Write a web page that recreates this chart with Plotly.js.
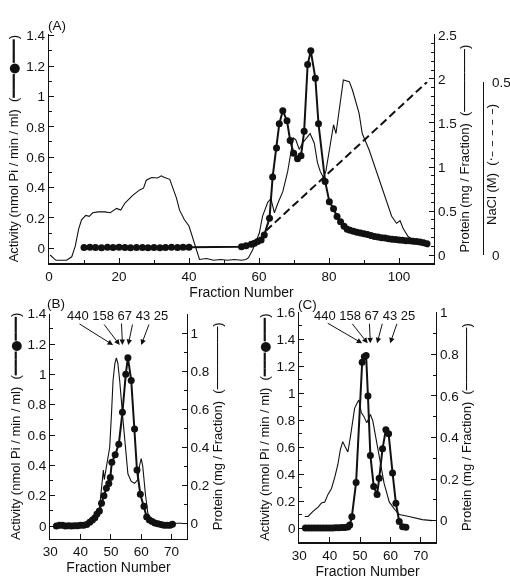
<!DOCTYPE html>
<html>
<head>
<meta charset="utf-8">
<script src="https://cdn.plot.ly/plotly-3.0.1.min.js"></script>
<style>
html,body{margin:0;padding:0;background:#fff;}
#chart{width:510px;height:580px;}
#chart .main-svg{will-change:transform;}
#chart svg text{-webkit-font-smoothing:antialiased;}
</style>
</head>
<body>
<div id="chart"></div>
<script>
// ---------- Panel A ----------
const aActX = [10,11.7,13.3,15,16.7,18.3,20,21.7,23.3,25,26.7,28.3,30,31.7,33.3,35,36.7,38.3,40,
  55,56.3,57.8,58.7,59.6,60.6,61.5,63,63.9,65,65.8,66.8,68,68.9,69.9,71,72,72.9,73.9,74.8,76.1,77,78.9,
  80.1,81.3,82.3,83.3,84.3,85.2,86,87,88,89,90,91,92,93,94,95,96,97,98,99,100,101,102,103,104,105,106,107,108];
const aActY = [0.005,0.006,0.005,0.004,0.006,0.005,0.006,0.005,0.004,0.005,0.005,0.004,0.005,0.004,0.005,0.006,0.005,0.006,0.007,
  0.01,0.017,0.026,0.033,0.044,0.055,0.088,0.197,0.47,0.66,0.82,0.905,0.84,0.71,0.625,0.59,0.61,0.77,1.21,1.30,1.12,0.82,0.44,
  0.307,0.26,0.21,0.175,0.145,0.125,0.118,0.112,0.106,0.1,0.095,0.09,0.084,0.078,0.074,0.07,0.067,0.063,0.06,0.057,0.055,0.052,0.05,0.049,0.047,0.045,0.042,0.036,0.03];
const aProtX = [0.3,2,5,6.5,7.5,8.5,9.3,10.5,11.5,12.5,14,16,17.5,19.3,20.5,21.7,24,25.9,27,27.8,29.3,31,32.1,33,34.5,35.5,36.4,37.3,38.7,40,
  41,42,43,45,47,49,51,53,55,56.3,57,58.2,60.1,61,62.5,63.4,64.4,65.5,66.8,68.2,69.1,69.8,70.5,71.5,72.4,73.4,74.6,75.8,76.7,77.5,
  78.4,79.1,80.1,81.3,82,82.9,84.1,85.8,86.7,88.6,89.5,91.5,93.4,95.2,96.5,97.9,99.3,100.3,101.2,102.6,104.8,106.5,108.5];
const aProtY = [0,-0.06,-0.06,-0.02,0.1,0.3,0.4,0.45,0.44,0.48,0.49,0.49,0.48,0.53,0.51,0.59,0.68,0.74,0.76,0.85,0.88,0.875,0.9,0.88,0.86,0.75,0.65,0.51,0.4,0.33,
  0.2,0.06,-0.05,-0.04,-0.06,-0.05,-0.06,-0.05,-0.06,-0.05,-0.03,0.06,0.25,0.44,0.6,0.64,0.48,0.6,0.72,0.95,1.19,1.33,1.31,1.2,1.27,1.32,1.38,1.27,1.05,0.95,
  0.88,0.95,1.2,1.48,1.38,1.65,1.99,1.97,1.875,1.61,1.38,1.19,0.97,0.74,0.59,0.44,0.36,0.39,0.30,0.21,0.15,0.12,0.09];
const aNaclX = [62,108];
const aNaclY = [0.07,0.5];

// ---------- Panel B ----------
const bActX = [32,33,34,35,36,37,38,39,40,41,42,43,43.9,44.7,45.4,46.2,46.9,47.7,48.5,49.3,49.8,50.3,
  51.4,52.6,53.8,54.9,55.6,56.7,57.8,58.6,59.7,60.9,61.8,62.7,63.6,64.5,65.5,66.5,67.5,68.5,69.5,70.3];
const bActY = [0,0.005,0.005,0,0.003,0,0.003,0.002,0.005,0.006,0.01,0.026,0.04,0.055,0.08,0.1,0.15,0.2,0.25,0.28,0.32,0.42,
  0.47,0.54,0.75,1.0,1.11,0.96,0.64,0.37,0.21,0.13,0.06,0.04,0.03,0.02,0.015,0.01,0.006,0.005,0.006,0.012];
const bProtX = [42,43,44.1,45,45.8,46.3,46.9,47.5,47.8,48.3,49.6,50.2,50.7,51.3,51.8,52.3,52.9,54,54.9,55.6,56.7,57.8,58.9,59.4,60,60.5,61.4,62.2,63.8,66,70,73.5];
const bProtY = [0,0.01,0.026,0.04,0.05,0.09,0.175,0.28,0.23,0.28,0.40,0.58,0.75,0.84,0.87,0.84,0.75,0.54,0.37,0.26,0.22,0.21,0.23,0.30,0.34,0.30,0.15,0.05,0.01,0.005,0,0];

// ---------- Panel C ----------
const cActX = [32,33,34,35,36,37,38,39,40,41,42,43,44,45,46,46.6,47.3,48.7,50.7,51.4,52,52.6,53.4,54.5,55.6,56.3,57.4,58.5,59.4,60.7,61.8,62.9,64,65.1];
const cActY = [0.003,0.002,0.003,0.002,0.003,0.002,0.003,0.002,0.003,0.003,0.004,0.004,0.005,0.006,0.01,0.025,0.086,0.34,1.23,1.27,1.28,0.98,0.54,0.31,0.25,
  0.37,0.59,0.73,0.70,0.41,0.185,0.05,0.012,0.007];
const cProtX = [31.8,32.9,34.5,36.2,37.3,38.4,39.4,40.6,41.7,42.7,43.5,44.3,45.1,46,46.8,47.6,48.2,49.2,49.6,50.4,51.3,52.2,53.4,54.2,55.3,56.3,57.9,59.6,61.6,62.9,66.1,70.5,73.8];
const cProtY = [0.02,0.02,0.045,0.065,0.085,0.09,0.125,0.155,0.21,0.27,0.34,0.38,0.355,0.33,0.40,0.48,0.54,0.57,0.58,0.52,0.50,0.47,0.51,0.48,0.40,0.31,0.18,0.09,0.05,0.03,0.02,0.005,0];

// ---------- Molecular-weight markers (kDa) ----------
const mwLabels = ["440","158","67","43","25"];
const mwFractionB = [50.7,52.9,53.8,55.7,60.0];
const mwFractionC = [50.7,52.5,53.4,55.6,59.9];

// ================= drawing =================
const W = 510, H = 580;
const ink = '#111';
const FONT = 'Liberation Sans, Arial, Helvetica, sans-serif';
const SYM = "<span style=\"font-family:'DejaVu Sans'\">";
const fx = p => p / W;
const fy = p => 1 - p / H;

function ax(extra) {
  const base = {
    showline: true, linecolor: ink, linewidth: 1.2, mirror: false,
    ticks: 'inside', ticklen: 5, tickwidth: 1, tickcolor: ink,
    showgrid: false, zeroline: false, automargin: false,
    tickfont: {family: FONT, size: 13.5, color: ink}
  };
  return Object.assign(base, extra);
}
const minorY = d => ({dtick: d, ticks: 'inside', ticklen: 3, tickwidth: 1, tickcolor: ink, showgrid: false});
const actTitle = {text: 'Activity (nmol Pi / min / ml)  (' + SYM + '━━━●━━━</span>)', font: {family: FONT, size: 13, color: ink}, standoff: 4};
const protTitle = {text: 'Protein (mg / Fraction)  (' + SYM + '────────</span>)', font: {family: FONT, size: 13, color: ink}, standoff: 3};
const fracTitle = {text: 'Fraction Number', font: {family: FONT, size: 14, color: ink}, standoff: 2};

const actLine = {color: ink, width: 2};
const actMarker = {color: ink, size: 7, symbol: 'circle'};
const protLine = {color: ink, width: 1.1};

const traces = [
  {x: aProtX, y: aProtY, xaxis: 'x', yaxis: 'y', mode: 'lines', line: protLine, name: 'Protein A'},
  {x: aActX, y: aActY, xaxis: 'x', yaxis: 'y2', mode: 'lines+markers', line: actLine, marker: actMarker, name: 'Activity A'},
  {x: aNaclX, y: aNaclY, xaxis: 'x', yaxis: 'y3', mode: 'lines', line: {color: ink, width: 2, dash: '8px,4px'}, name: 'NaCl'},
  {x: bProtX, y: bProtY, xaxis: 'x2', yaxis: 'y4', mode: 'lines', line: protLine, name: 'Protein B'},
  {x: bActX, y: bActY, xaxis: 'x2', yaxis: 'y5', mode: 'lines+markers', line: actLine, marker: actMarker, name: 'Activity B'},
  {x: cProtX, y: cProtY, xaxis: 'x3', yaxis: 'y6', mode: 'lines', line: protLine, name: 'Protein C'},
  {x: cActX, y: cActY, xaxis: 'x3', yaxis: 'y7', mode: 'lines+markers', line: actLine, marker: actMarker, name: 'Activity C'}
];

const annotations = [
  {text: '(A)', x: fx(57), y: fy(26)},
  {text: '(B)', x: fx(56), y: fy(303)},
  {text: '(C)', x: fx(307), y: fy(304)},
  {text: 'NaCl (M)  (' + SYM + '·– – – – –</span>)', x: fx(491), y: fy(165), textangle: -90, font: {family: FONT, size: 13, color: ink}},
  {text: mwLabels.join(' '), x: fx(117.5), y: fy(315), font: {family: FONT, size: 13, color: ink}},
  {text: mwLabels.join(' '), x: fx(364.2), y: fy(315), font: {family: FONT, size: 13, color: ink}}
].map(a => Object.assign({xref: 'paper', yref: 'paper', xanchor: 'center', yanchor: 'middle', showarrow: false,
  font: {family: FONT, size: 13.5, color: ink}}, a));

// arrows from the marker labels down to the marker fractions
const tailB = [[-35, -22], [-16.7, -22], [-1, -23], [4.6, -22], [8.3, -22]];
const tailC = [[-36, -21], [-16.6, -21], [-1, -21], [5.6, -21], [7.3, -21]];
function arrows(fracs, tails, xref, tipPx) {
  return fracs.map((f, i) => ({
    text: '', x: f, y: fy(tipPx), xref: xref, yref: 'paper',
    showarrow: true, ax: tails[i][0], ay: tails[i][1], axref: 'pixel', ayref: 'pixel',
    arrowhead: 2, arrowsize: 1.1, arrowwidth: 1, arrowcolor: ink,
    font: {size: 1}
  }));
}
annotations.push(...arrows(mwFractionB, tailB, 'x2', 345));
annotations.push(...arrows(mwFractionC, tailC, 'x3', 343.3));

const layout = {
  width: W, height: H, autosize: false,
  margin: {l: 0, r: 0, t: 0, b: 0, pad: 0},
  paper_bgcolor: '#fff', plot_bgcolor: 'rgba(0,0,0,0)',
  showlegend: false,
  font: {family: FONT, color: ink, size: 13.5},
  // Panel A
  xaxis: ax({domain: [fx(49), fx(434)], range: [0, 110], tick0: 0, dtick: 20, anchor: 'y',
    minor: {dtick: 10, ticks: 'inside', ticklen: 3, tickcolor: ink, showgrid: false}, title: fracTitle}),
  yaxis: ax({domain: [fy(263.3), fy(34)], range: [-0.094, 2.511], tick0: 0, dtick: 0.5, side: 'right', anchor: 'x',
    minor: minorY(0.1), title: protTitle}),
  yaxis2: ax({overlaying: 'y', range: [-0.099, 1.411], tick0: 0, dtick: 0.2, side: 'left', anchor: 'x',
    minor: minorY(0.1), title: actTitle}),
  yaxis3: ax({domain: [fy(255), fy(82)], range: [0, 0.5], tick0: 0, dtick: 0.5, side: 'right', anchor: 'free',
    position: fx(483), ticklen: 5, ticklabelstandoff: 5}),
  // Panel B
  xaxis2: ax({domain: [fx(50.3), fx(186.7)], range: [30, 75], tick0: 30, dtick: 10, anchor: 'y4', title: fracTitle}),
  yaxis4: ax({domain: [fy(539), fy(313.5)], range: [-0.083, 1.104], tick0: 0, dtick: 0.2, side: 'right', anchor: 'x2',
    minor: minorY(0.1), title: protTitle}),
  yaxis5: ax({overlaying: 'y4', range: [-0.085, 1.401], tick0: 0, dtick: 0.2, side: 'left', anchor: 'x2',
    minor: minorY(0.1), title: actTitle}),
  // Panel C
  xaxis3: ax({domain: [fx(299.3), fx(436)], range: [30, 75], tick0: 30, dtick: 10, anchor: 'y6', title: fracTitle}),
  yaxis6: ax({domain: [fy(542.3), fy(312)], range: [-0.104, 1.003], tick0: 0, dtick: 0.2, side: 'right', anchor: 'x3',
    minor: minorY(0.1), title: protTitle}),
  yaxis7: ax({overlaying: 'y6', range: [-0.1037, 1.602], tick0: 0, dtick: 0.2, side: 'left', anchor: 'x3',
    minor: minorY(0.1), title: actTitle}),
  annotations: annotations
};

Plotly.newPlot('chart', traces, layout, {staticPlot: true, displayModeBar: false});
</script>
</body>
</html>
